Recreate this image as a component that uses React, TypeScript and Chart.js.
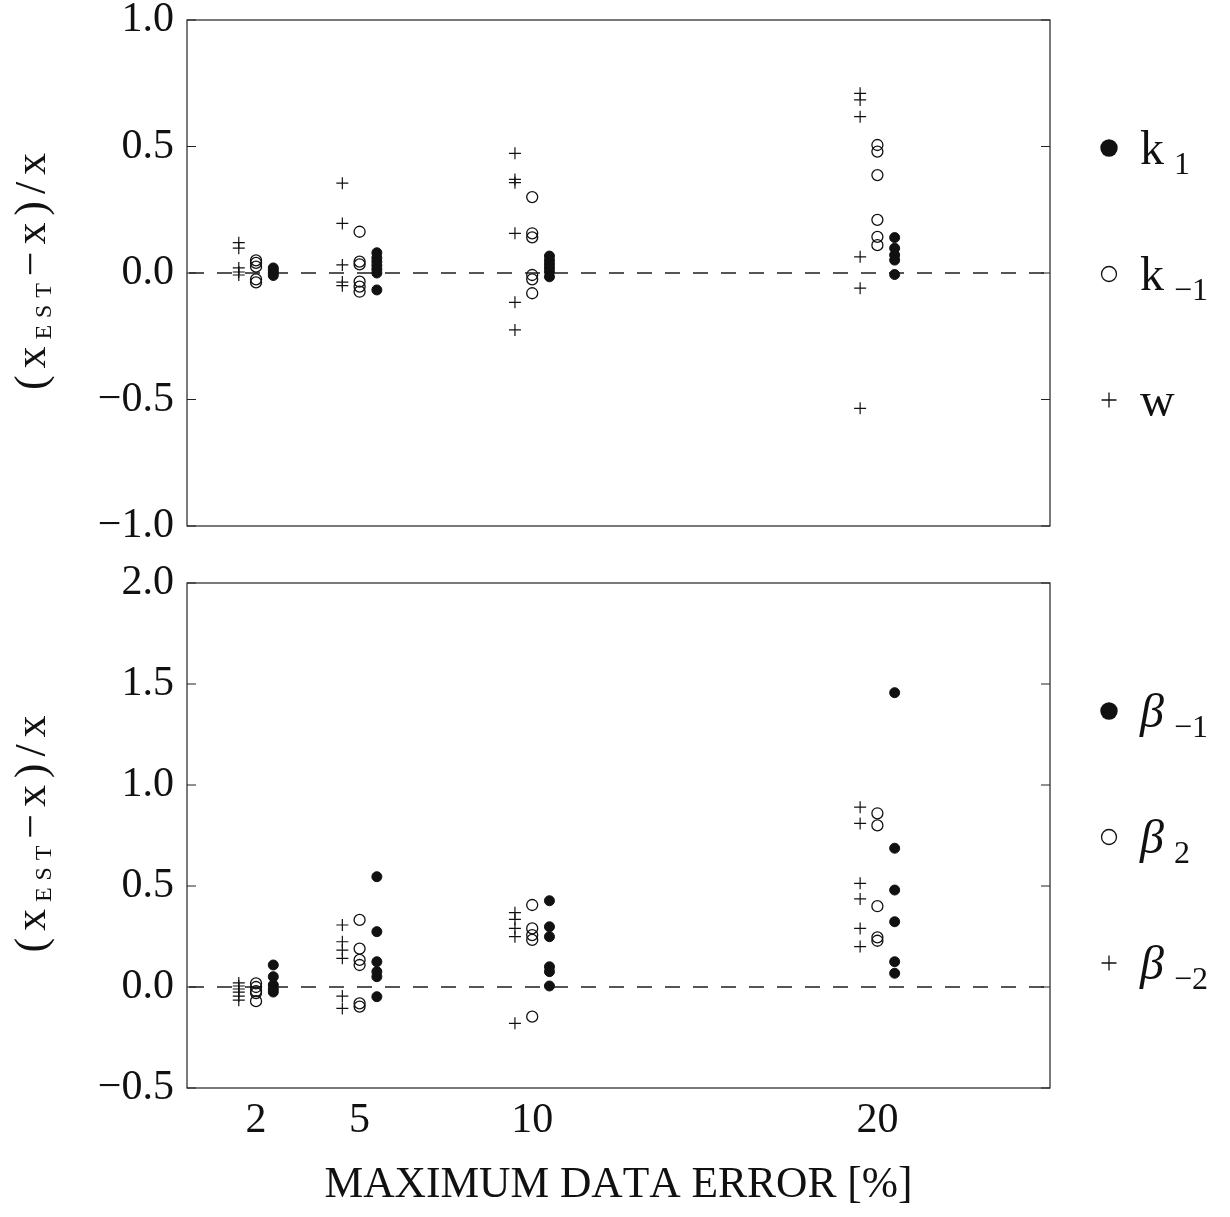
import React, { useEffect, useRef } from "react";
import { Chart, registerables } from "chart.js";

Chart.register(...registerables);

// ---------------- data ----------------
const ERROR_LEVELS = [2, 5, 10, 20];
const X_TICK_LABELS = [2, 5, 10, 20];
const TOP_Y_TICKS = [-1, -0.5, 0, 0.5, 1];
const BOTTOM_Y_TICKS = [-0.5, 0, 0.5, 1, 1.5, 2];

// top panel, one list per error level (2, 5, 10, 20 %)
const k1Values = [
  [0.02, 0.01, 0.0, -0.01],
  [0.08, 0.06, 0.045, 0.03, 0.015, 0.0, -0.067],
  [0.067, 0.05, 0.035, 0.02, 0.005, -0.015],
  [0.14, 0.098, 0.071, 0.051, -0.006],
];
const kMinus1Values = [
  [0.05, 0.04, 0.025, -0.025, -0.037],
  [0.163, 0.045, 0.034, -0.034, -0.054, -0.074],
  [0.3, 0.157, 0.141, -0.008, -0.025, -0.08],
  [0.506, 0.48, 0.387, 0.21, 0.143, 0.11],
];
const wValues = [
  [0.12, 0.098, 0.02, 0.004, -0.008],
  [0.355, 0.196, 0.032, -0.036, -0.05],
  [0.473, 0.37, 0.357, 0.157, -0.116, -0.225],
  [0.71, 0.684, 0.618, 0.064, -0.06, -0.535],
];

// bottom panel
const betaMinus1Values = [
  [0.109, 0.051, 0.01, -0.01, -0.025],
  [0.546, 0.274, 0.125, 0.076, 0.051, -0.048],
  [0.427, 0.298, 0.249, 0.1, 0.076, 0.005],
  [1.457, 0.687, 0.48, 0.323, 0.125, 0.068],
];
const beta2Values = [
  [0.018, 0.0, -0.02, -0.03, -0.07],
  [0.332, 0.19, 0.134, 0.109, -0.081, -0.097],
  [0.406, 0.29, 0.257, 0.233, -0.147],
  [0.86, 0.8, 0.4, 0.246, 0.229],
];
const betaMinus2Values = [
  [0.02, 0.005, -0.01, -0.025, -0.045, -0.065],
  [0.307, 0.224, 0.183, 0.142, -0.045, -0.106],
  [0.368, 0.335, 0.29, 0.249, -0.18],
  [0.89, 0.81, 0.513, 0.436, 0.29, 0.2],
];

const TOP_LEGEND = [
  { marker: "filled", main: "k", sub: "1" },
  { marker: "open", main: "k", sub: "\u22121" },
  { marker: "plus", main: "w", sub: "" },
];
const BOTTOM_LEGEND = [
  { marker: "filled", main: "\u03b2", sub: "\u22121" },
  { marker: "open", main: "\u03b2", sub: "2" },
  { marker: "plus", main: "\u03b2", sub: "\u22122" },
];
const X_TITLE = "MAXIMUM DATA ERROR [%]";

// ---------------- styling ----------------
const SERIF = "'Liberation Serif', 'DejaVu Serif', serif";
const INK = "#111";
const W = 1230;
const TOP_H = 556;
const BOTTOM_H = 661;
const LEFT = 187;
const RIGHT_PAD = 180;

function toPoints(groups: number[][], offset: number) {
  return groups.flatMap((vals, i) =>
    vals.map((v) => ({ x: ERROR_LEVELS[i] + offset, y: v }))
  );
}

function datasets(filled: number[][], open: number[][], plus: number[][]) {
  return [
    {
      data: toPoints(plus, -0.5),
      pointStyle: "cross",
      pointRadius: 6,
      borderColor: INK,
      backgroundColor: INK,
      borderWidth: 1.2,
    },
    {
      data: toPoints(open, 0),
      pointStyle: "circle",
      pointRadius: 5.5,
      borderColor: INK,
      backgroundColor: "rgba(0,0,0,0)",
      borderWidth: 1.3,
    },
    {
      data: toPoints(filled, 0.5),
      pointStyle: "circle",
      pointRadius: 5,
      borderColor: INK,
      backgroundColor: INK,
      borderWidth: 1,
    },
  ];
}

type Run = { t: string; f: string; dy: number };

// Draws text runs centred on x, spreading characters (letter spacing) to fill target width.
function drawRuns(ctx: CanvasRenderingContext2D, runs: Run[], x: number, y: number, target: number) {
  const chars: { c: string; f: string; dy: number; w: number }[] = [];
  runs.forEach((r) => {
    ctx.font = r.f;
    for (const c of Array.from(r.t)) chars.push({ c, f: r.f, dy: r.dy, w: ctx.measureText(c).width });
  });
  const total = chars.reduce((a, b) => a + b.w, 0);
  let gap = 0;
  let sx = 1;
  if (total < target) gap = (target - total) / Math.max(1, chars.length - 1);
  else sx = target / total;
  ctx.save();
  ctx.translate(x - target / 2, y);
  ctx.scale(sx, 1);
  ctx.textAlign = "left";
  ctx.textBaseline = "alphabetic";
  ctx.fillStyle = INK;
  let cx = 0;
  chars.forEach((ch) => {
    ctx.font = ch.f;
    ctx.fillText(ch.c, cx, ch.dy);
    cx += ch.w + gap;
  });
  ctx.restore();
}

function drawMarker(ctx: CanvasRenderingContext2D, kind: string, x: number, y: number) {
  ctx.save();
  ctx.strokeStyle = INK;
  ctx.fillStyle = INK;
  ctx.lineWidth = 1.3;
  if (kind === "filled") {
    ctx.beginPath();
    ctx.arc(x, y, 8.7, 0, Math.PI * 2);
    ctx.fill();
  } else if (kind === "open") {
    ctx.beginPath();
    ctx.arc(x, y, 7.5, 0, Math.PI * 2);
    ctx.stroke();
  } else {
    ctx.beginPath();
    ctx.moveTo(x - 7.5, y);
    ctx.lineTo(x + 7.5, y);
    ctx.moveTo(x, y - 7.5);
    ctx.lineTo(x, y + 7.5);
    ctx.stroke();
  }
  ctx.restore();
}

function makePlugin(yTicks: number[], legend: typeof TOP_LEGEND, italic: boolean, showXTitle: boolean) {
  return {
    id: "panelDecor",
    beforeDatasetsDraw(chart: any) {
      const { ctx, chartArea } = chart;
      const y0 = chart.scales.y.getPixelForValue(0);
      ctx.save();
      ctx.strokeStyle = "#555";
      ctx.lineWidth = 1.8;
      ctx.setLineDash([15, 13]);
      ctx.beginPath();
      ctx.moveTo(chartArea.left + 2, y0);
      ctx.lineTo(chartArea.right, y0);
      ctx.stroke();
      ctx.restore();
    },
    afterDraw(chart: any) {
      const { ctx, chartArea } = chart;
      const { left, right, top, bottom } = chartArea;
      ctx.save();
      ctx.strokeStyle = "#222";
      ctx.lineWidth = 1.2;
      ctx.strokeRect(left, top, right - left, bottom - top);
      ctx.beginPath();
      yTicks.forEach((v) => {
        const py = chart.scales.y.getPixelForValue(v);
        ctx.moveTo(left, py);
        ctx.lineTo(left + 9, py);
        ctx.moveTo(right - 9, py);
        ctx.lineTo(right, py);
      });
      ctx.stroke();
      ctx.restore();

      // legend
      const rows = [128, 254, 380];
      legend.forEach((item, i) => {
        const my = top + rows[i];
        drawMarker(ctx, item.marker, 1109, my);
        ctx.save();
        ctx.fillStyle = INK;
        ctx.textAlign = "left";
        ctx.textBaseline = "alphabetic";
        ctx.font = `${italic ? "italic " : ""}48px ${SERIF}`;
        ctx.fillText(item.main, 1140, my + 16);
        if (item.sub) {
          ctx.font = `32px ${SERIF}`;
          ctx.fillText(item.sub, italic ? 1174 : 1174, my + 26);
        }
        ctx.restore();
      });

      // y title
      const cy = (top + bottom) / 2 - 1.5;
      ctx.save();
      ctx.translate(45, cy);
      ctx.rotate(-Math.PI / 2);
      drawRuns(
        ctx,
        [
          { t: "(", f: `44px ${SERIF}`, dy: 0 },
          { t: "x", f: `44px ${SERIF}`, dy: 0 },
          { t: "EST", f: `24px ${SERIF}`, dy: 6 },
          { t: "\u2212", f: `44px ${SERIF}`, dy: 0 },
          { t: "x)/x", f: `44px ${SERIF}`, dy: 0 },
        ],
        0,
        0,
        237
      );
      ctx.restore();

      if (showXTitle) {
        drawRuns(ctx, [{ t: X_TITLE, f: `44px ${SERIF}`, dy: 0 }], (left + right) / 2, 641, 588);
      }
    },
  };
}

function makeConfig(
  data: any[],
  yMin: number,
  yMax: number,
  yTicks: number[],
  legend: typeof TOP_LEGEND,
  italic: boolean,
  bottomPanel: boolean
): any {
  const tickFont = { family: SERIF, size: 42, lineHeight: 1.2 };
  return {
    type: "scatter",
    data: { datasets: data },
    options: {
      responsive: false,
      animation: false,
      events: [],
      layout: {
        padding: bottomPanel
          ? { top: 27, right: RIGHT_PAD, bottom: 0, left: 0 }
          : { top: 20, right: RIGHT_PAD, bottom: 30, left: 0 },
      },
      plugins: { legend: { display: false }, tooltip: { enabled: false } },
      scales: {
        x: {
          type: "linear",
          min: 0,
          max: 25,
          display: bottomPanel,
          grid: { display: false, drawTicks: false },
          border: { display: false },
          afterBuildTicks: (s: any) => {
            s.ticks = X_TICK_LABELS.map((v) => ({ value: v }));
          },
          afterFit: (s: any) => {
            if (bottomPanel) s.height = 129;
            s.paddingLeft = 0;
            s.paddingRight = 0;
          },
          ticks: {
            autoSkip: false,
            maxRotation: 0,
            padding: 8,
            color: INK,
            font: tickFont,
            callback: (v: number) => String(v),
          },
        },
        y: {
          type: "linear",
          min: yMin,
          max: yMax,
          grid: { display: false, drawTicks: false },
          border: { display: false },
          afterBuildTicks: (s: any) => {
            s.ticks = yTicks.map((v) => ({ value: v }));
          },
          afterFit: (s: any) => {
            s.width = LEFT;
            s.paddingTop = 0;
            s.paddingBottom = 0;
          },
          ticks: {
            autoSkip: false,
            padding: 13,
            color: INK,
            font: tickFont,
            callback: (v: number) => (v < 0 ? "\u2212" + Math.abs(v).toFixed(1) : v.toFixed(1)),
          },
        },
      },
    },
    plugins: [makePlugin(yTicks, legend, italic, bottomPanel)],
  };
}

export default function App() {
  const topRef = useRef<HTMLCanvasElement>(null);
  const bottomRef = useRef<HTMLCanvasElement>(null);

  useEffect(() => {
    const top = new Chart(
      topRef.current as HTMLCanvasElement,
      makeConfig(datasets(k1Values, kMinus1Values, wValues), -1, 1, TOP_Y_TICKS, TOP_LEGEND, false, false)
    );
    const bottom = new Chart(
      bottomRef.current as HTMLCanvasElement,
      makeConfig(
        datasets(betaMinus1Values, beta2Values, betaMinus2Values),
        -0.5,
        2,
        BOTTOM_Y_TICKS,
        BOTTOM_LEGEND,
        true,
        true
      )
    );
    return () => {
      top.destroy();
      bottom.destroy();
    };
  }, []);

  return (
    <div style={{ position: "absolute", left: 0, top: 0, width: W, height: TOP_H + BOTTOM_H, background: "#fff" }}>
      <canvas
        ref={topRef}
        width={W}
        height={TOP_H}
        style={{ position: "absolute", left: 0, top: 0, width: W, height: TOP_H, display: "block" }}
      />
      <canvas
        ref={bottomRef}
        width={W}
        height={BOTTOM_H}
        style={{ position: "absolute", left: 0, top: TOP_H, width: W, height: BOTTOM_H, display: "block" }}
      />
    </div>
  );
}
